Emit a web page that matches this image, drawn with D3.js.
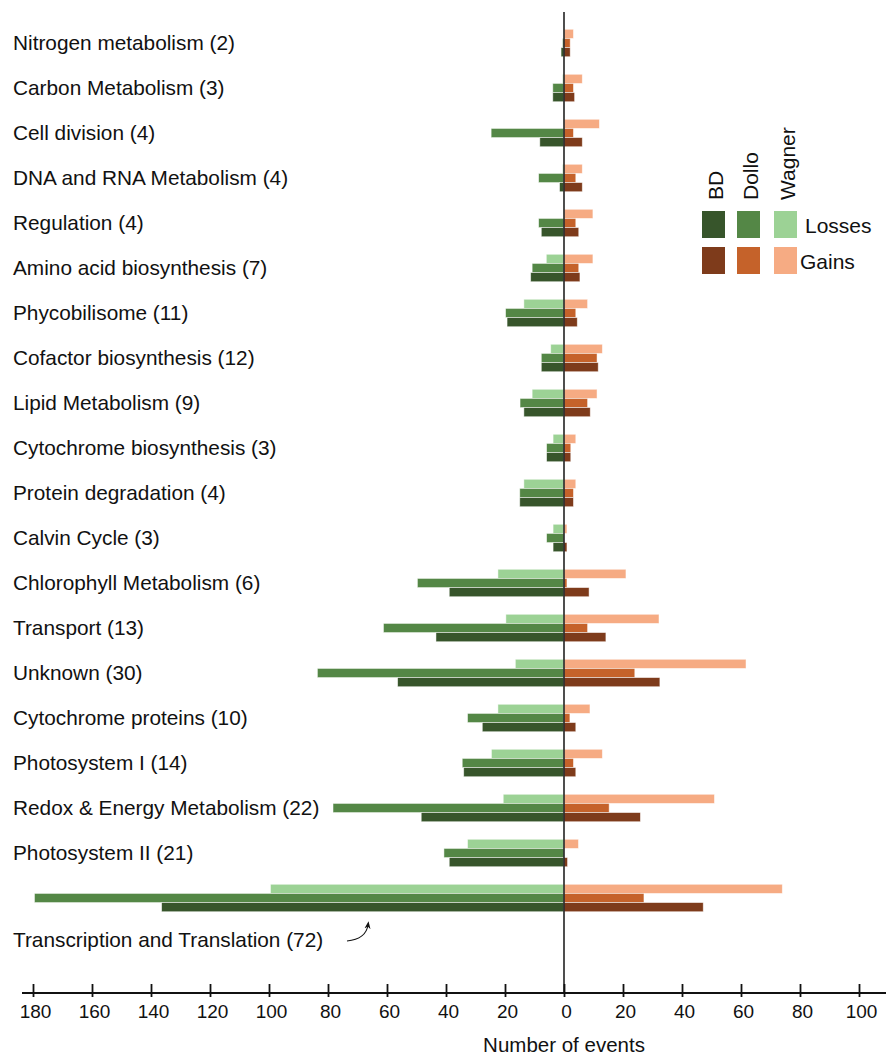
<!DOCTYPE html>
<html>
<head>
<meta charset="utf-8">
<script src="https://cdn.jsdelivr.net/npm/d3@7"></script>
<style>
  html, body { margin: 0; padding: 0; background: #fff; }
  svg { display: block; font-family: "Liberation Sans", Arial, Helvetica, sans-serif; }
</style>
</head>
<body>
<svg id="chart" width="889" height="1057"></svg>
<script>
// Functional categories (number of genes in parentheses)
const categories = [
  "Nitrogen metabolism (2)",
  "Carbon Metabolism (3)",
  "Cell division (4)",
  "DNA and RNA Metabolism (4)",
  "Regulation (4)",
  "Amino acid biosynthesis (7)",
  "Phycobilisome (11)",
  "Cofactor biosynthesis (12)",
  "Lipid Metabolism (9)",
  "Cytochrome biosynthesis (3)",
  "Protein degradation (4)",
  "Calvin Cycle (3)",
  "Chlorophyll Metabolism (6)",
  "Transport (13)",
  "Unknown (30)",
  "Cytochrome proteins (10)",
  "Photosystem I (14)",
  "Redox & Energy Metabolism (22)",
  "Photosystem II (21)",
  "Transcription and Translation (72)"
];

// Reconstruction methods, drawn top to bottom within each category
const methods = ["Wagner", "Dollo", "BD"];
const legendMethods = ["BD", "Dollo", "Wagner"];

// Number of losses per category
const lossesWagner = [0, 0.5, 0, 0.5, 0, 6, 13.6, 4.5, 10.8, 3.7, 13.6, 3.7, 22.4, 19.7, 16.5, 22.4, 24.6, 20.6, 32.7, 99.5];
const lossesDollo  = [0.5, 3.8, 24.7, 8.6, 8.6, 10.8, 19.8, 7.7, 14.9, 5.9, 15, 5.9, 49.7, 61.2, 83.6, 32.7, 34.5, 78.3, 40.7, 179.5];
const lossesBD     = [1, 3.8, 8.2, 1.5, 7.7, 11.3, 19.3, 7.7, 13.6, 5.9, 15, 3.7, 38.9, 43.4, 56.4, 27.7, 34, 48.4, 38.9, 136.4];

// Number of gains per category
const gainsWagner = [3.2, 6.2, 12, 6.2, 9.8, 9.8, 8, 13, 11.2, 4, 4, 1, 21, 32.2, 61.7, 8.8, 13, 51, 4.9, 74];
const gainsDollo  = [2.1, 3.2, 3.2, 4, 4, 5, 4, 11.2, 8, 2.3, 3.2, 0, 1, 8, 24, 2, 3.2, 15.3, 0, 27.1];
const gainsBD     = [2.1, 3.6, 6.2, 6.2, 5, 5.4, 4.5, 11.6, 8.9, 2.3, 3.2, 1, 8.5, 14.2, 32.5, 4, 4, 25.9, 1.2, 47.2];

// Axis ticks (absolute counts on both sides of zero)
const tickValues = [-180, -160, -140, -120, -100, -80, -60, -40, -20, 0, 20, 40, 60, 80, 100];

const lossColors = { BD: "#37552b", Dollo: "#548746", Wagner: "#9cd295" };
const gainColors = { BD: "#7e3b1b", Dollo: "#c5622a", Wagner: "#f6ab83" };

const losses = { Wagner: lossesWagner, Dollo: lossesDollo, BD: lossesBD };
const gains  = { Wagner: gainsWagner, Dollo: gainsDollo, BD: gainsBD };

const svg = d3.select("#chart");

const x = d3.scaleLinear().domain([-180, 100]).range([33, 859]);

const y = d3.scaleBand()
  .domain(categories)
  .range([20.5, 920.5])
  .paddingInner(0.39)
  .paddingOuter(0.195);

const ySub = d3.scaleBand().domain(methods).range([0, y.bandwidth()]);

// Flatten into bar records
const bars = [];
categories.forEach((c, i) => {
  methods.forEach(m => {
    bars.push({ cat: c, method: m, value: -losses[m][i], fill: lossColors[m] });
    bars.push({ cat: c, method: m, value: gains[m][i], fill: gainColors[m] });
  });
});

svg.append("g")
  .selectAll("rect")
  .data(bars.filter(d => d.value !== 0))
  .join("rect")
  .attr("x", d => Math.min(x(0), x(d.value)))
  .attr("y", d => y(d.cat) + ySub(d.method))
  .attr("width", d => Math.abs(x(d.value) - x(0)))
  .attr("height", ySub.bandwidth())
  .attr("fill", d => d.fill)
  .attr("stroke", "#ffffff")
  .attr("stroke-opacity", 0.6)
  .attr("stroke-width", 0.8);

// Zero line
svg.append("line")
  .attr("x1", x(0)).attr("x2", x(0))
  .attr("y1", 12).attr("y2", 993)
  .attr("stroke", "#222").attr("stroke-width", 1.6);

// Category labels
const labelG = svg.append("g")
  .attr("font-size", 20.8)
  .attr("fill", "#111");

categories.forEach((c, i) => {
  const last = i === categories.length - 1;
  labelG.append("text")
    .attr("x", 13)
    .attr("y", last ? 947 : y(c) + y.bandwidth() / 2 + 7)
    .text(c);
});

// Curved pointer from the last label to its bars
svg.append("defs").append("marker")
  .attr("id", "head")
  .attr("viewBox", "0 0 10 10")
  .attr("refX", 5).attr("refY", 5)
  .attr("markerWidth", 7).attr("markerHeight", 8)
  .attr("orient", "auto")
  .append("path")
  .attr("d", "M0,1 L10,5 L0,9 L3,5 Z")
  .attr("fill", "#111");

svg.append("path")
  .attr("d", "M347,941 Q366,939 368,925")
  .attr("fill", "none")
  .attr("stroke", "#111")
  .attr("stroke-width", 1.1)
  .attr("marker-end", "url(#head)");

// Bottom axis
const axisG = svg.append("g").attr("transform", "translate(0,993)");
axisG.append("line")
  .attr("x1", 22).attr("x2", 886)
  .attr("stroke", "#111").attr("stroke-width", 2.2);

const axis = d3.axisBottom(x)
  .tickValues(tickValues)
  .tickFormat(d => Math.abs(d))
  .tickSize(0);

const ax = axisG.append("g").call(axis);
ax.select(".domain").remove();
ax.selectAll(".tick line")
  .attr("y1", -9).attr("y2", 4)
  .attr("stroke", "#111").attr("stroke-width", 1.8);
ax.selectAll(".tick text")
  .attr("y", 25)
  .attr("dy", 0)
  .attr("dx", 2)
  .attr("font-size", 19)
  .attr("font-family", "Liberation Sans, Arial, sans-serif")
  .attr("fill", "#111");

svg.append("text")
  .attr("x", x(0))
  .attr("y", 1052)
  .attr("text-anchor", "middle")
  .attr("font-size", 20.5)
  .attr("fill", "#111")
  .text("Number of events");

// Legend
const legendX = { BD: 702, Dollo: 737, Wagner: 774 };
const legend = svg.append("g");
legendMethods.forEach(m => {
  legend.append("rect")
    .attr("x", legendX[m]).attr("y", 211)
    .attr("width", 23).attr("height", 27)
    .attr("fill", lossColors[m]);
  legend.append("rect")
    .attr("x", legendX[m]).attr("y", 247)
    .attr("width", 23).attr("height", 27)
    .attr("fill", gainColors[m]);
  legend.append("text")
    .attr("transform", `translate(${legendX[m] + 20.5},200) rotate(-90)`)
    .attr("font-size", 21)
    .attr("fill", "#111")
    .text(m);
});
legend.append("text")
  .attr("x", 805).attr("y", 233)
  .attr("font-size", 21).attr("fill", "#111")
  .text("Losses");
legend.append("text")
  .attr("x", 800).attr("y", 269)
  .attr("font-size", 21).attr("fill", "#111")
  .text("Gains");
</script>
</body>
</html>
